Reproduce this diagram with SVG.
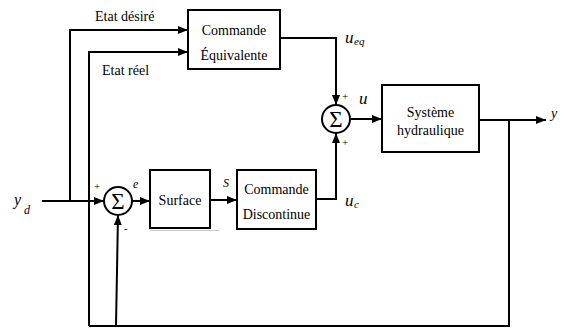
<svg xmlns="http://www.w3.org/2000/svg" width="568" height="329" viewBox="0 0 568 329">
  <style>
    .box { fill: #fff; stroke: #000; stroke-width: 2; }
    .sum { fill: #fff; stroke: #000; stroke-width: 2; }
    .wire { fill: none; stroke: #000; stroke-width: 2; }
    .lbl { font-family: "Liberation Serif", "Times New Roman", serif; font-size: 14px; fill: #000; }
    .mid { text-anchor: middle; }
    .it { font-family: "Liberation Serif", "Times New Roman", serif; font-style: italic; fill: #000; }
    .sig { font-family: "Liberation Serif", "Times New Roman", serif; font-size: 23px; text-anchor: middle; fill: #000; }
    .sgn { font-family: "Liberation Serif", "Times New Roman", serif; font-size: 11px; fill: #000; }
  </style>
  <defs>
    <marker id="arr" viewBox="0 0 10 8" refX="10" refY="4" markerWidth="10" markerHeight="8" markerUnits="userSpaceOnUse" orient="auto">
      <path d="M0,0 L10,4 L0,8 Z" fill="#000"/>
    </marker>
  </defs>

  <!-- connectors -->
  <g id="connectors">
    <path class="wire" d="M42,201 H104" marker-end="url(#arr)"/>
    <path class="wire" d="M70,201 V30 H188" marker-end="url(#arr)"/>
    <path class="wire" d="M89,326 V52 H188" marker-end="url(#arr)"/>
    <path class="wire" d="M89,326 H509 V120"/>
    <path class="wire" d="M116,326 L118,215" marker-end="url(#arr)"/>
    <path class="wire" d="M132,201 H150" marker-end="url(#arr)"/>
    <path class="wire" d="M210,200 H237" marker-end="url(#arr)"/>
    <path class="wire" d="M316,199 H336 V133" marker-end="url(#arr)"/>
    <path class="wire" d="M280,38 H336 V105" marker-end="url(#arr)"/>
    <path class="wire" d="M350,119 H382" marker-end="url(#arr)"/>
    <path class="wire" d="M479,120 H546" marker-end="url(#arr)"/>
  </g>

  <!-- faint rule below the Surface block -->
  <line x1="150" y1="230.5" x2="219" y2="230.5" stroke="#c8c8c8" stroke-width="1"/>

  <!-- edge labels -->
  <g id="labels">
    <text class="lbl" x="95" y="21">Etat désiré</text>
    <text class="lbl" x="102" y="75">Etat réel</text>
    <text class="it" x="14" y="205" font-size="16">y</text>
    <text class="it" x="24" y="214" font-size="12">d</text>
    <text class="sgn" x="94" y="190">+</text>
    <text class="it" x="133" y="188" font-size="12">e</text>
    <text class="sgn" x="124" y="232">-</text>
    <text class="it" x="223" y="187" font-size="12">S</text>
    <text class="it" x="345" y="206" font-size="17">u</text>
    <text class="it" x="354" y="208" font-size="11">c</text>
    <text class="it" x="345" y="43" font-size="17">u</text>
    <text class="it" x="354" y="45" font-size="11">eq</text>
    <text class="sgn" x="342" y="100">+</text>
    <text class="sgn" x="342" y="146">+</text>
    <text class="it" x="359" y="104" font-size="17">u</text>
    <text class="it" x="551" y="118" font-size="14">y</text>
  </g>

  <g id="commande-equivalente">
    <rect class="box" x="188" y="10" width="92" height="59"/>
    <text class="lbl mid" x="234" y="35">Commande</text>
    <text class="lbl mid" x="234" y="60">Équivalente</text>
  </g>

  <g id="sum-u">
    <circle class="sum" cx="336" cy="119" r="14"/>
    <text class="sig" x="336" y="127">Σ</text>
  </g>

  <g id="systeme-hydraulique">
    <rect class="box" x="382" y="85" width="97" height="67"/>
    <text class="lbl mid" x="430.5" y="117">Système</text>
    <text class="lbl mid" x="430.5" y="135">hydraulique</text>
  </g>

  <g id="sum-e">
    <circle class="sum" cx="118" cy="201" r="14"/>
    <text class="sig" x="118" y="209">Σ</text>
  </g>

  <g id="surface">
    <rect class="box" x="150" y="170" width="60" height="58"/>
    <text class="lbl mid" x="180" y="205">Surface</text>
  </g>

  <g id="commande-discontinue">
    <rect class="box" x="237" y="170" width="79" height="59"/>
    <text class="lbl mid" x="276.5" y="194">Commande</text>
    <text class="lbl mid" x="276.5" y="219">Discontinue</text>
  </g>
</svg>
